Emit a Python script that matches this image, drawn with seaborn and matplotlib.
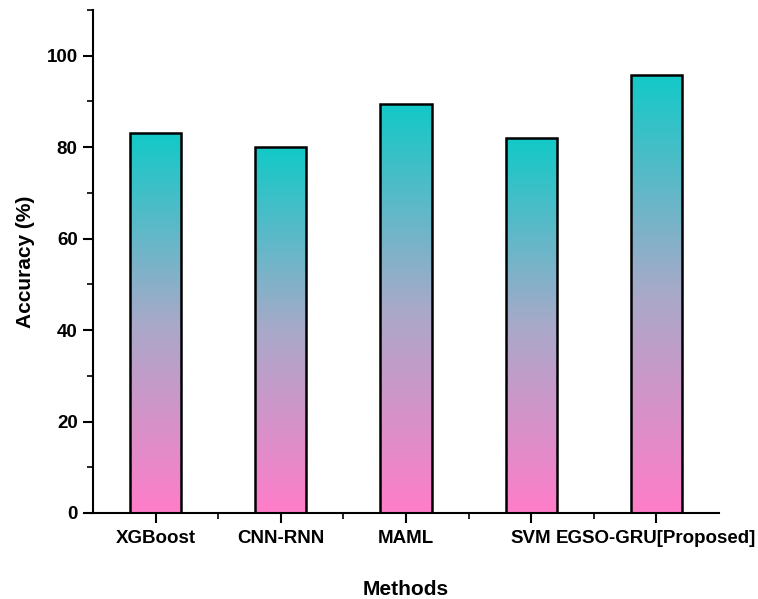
import numpy as np
import pandas as pd
import matplotlib
matplotlib.use("Agg")
import matplotlib.pyplot as plt
from matplotlib.colors import LinearSegmentedColormap
from matplotlib.ticker import MultipleLocator, FixedLocator
import seaborn as sns

methods = ["XGBoost", "CNN-RNN", "MAML", "SVM", "EGSO-GRU[Proposed]"]
accuracy = [83.0, 80.0, 89.5, 82.0, 95.8]

sns.set_style("ticks")
plt.rcParams["font.family"] = ["Liberation Sans", "DejaVu Sans"]
plt.rcParams["text.color"] = "black"
plt.rcParams["axes.labelcolor"] = "black"
plt.rcParams["xtick.color"] = "black"
plt.rcParams["ytick.color"] = "black"
plt.rcParams["axes.edgecolor"] = "black"

df = pd.DataFrame({"Methods": methods, "Accuracy": accuracy})

fig = plt.figure(figsize=(7.58, 5.99), dpi=100)
ax = fig.add_axes([0.1227, 0.1436, 0.8258, 0.8397])

sns.barplot(data=df, x="Methods", y="Accuracy", ax=ax, width=0.41,
            color="white", edgecolor="black", linewidth=1.8, zorder=3)

cmap = LinearSegmentedColormap.from_list(
    "tp", [(0.0, "#FF7DC8"), (0.5, "#A8A9C9"), (1.0, "#12C9C7")])
grad = np.linspace(0, 1, 256).reshape(-1, 1)
for p in ax.patches:
    x0, y0 = p.get_x(), p.get_y()
    w, h = p.get_width(), p.get_height()
    im = ax.imshow(grad, cmap=cmap, origin="lower", aspect="auto",
                   extent=[x0, x0 + w, y0, y0 + h], zorder=2,
                   interpolation="bilinear")
    im.set_clip_path(p)
    p.set_facecolor("none")

ax.set_xlim(-0.5, 4.5)
ax.set_ylim(0, 110)
ax.yaxis.set_major_locator(MultipleLocator(20))
ax.yaxis.set_minor_locator(MultipleLocator(10))
ax.xaxis.set_minor_locator(FixedLocator([0.5, 1.5, 2.5, 3.5]))

sns.despine(ax=ax)
for s in ["left", "bottom"]:
    ax.spines[s].set_linewidth(1.5)
    ax.spines[s].set_color("black")

ax.tick_params(axis="both", which="major", direction="out", length=7, width=1.5,
               labelsize=13.5, colors="black")
ax.tick_params(axis="both", which="minor", direction="out", length=4, width=1.2,
               colors="black")
ax.tick_params(axis="x", which="major", pad=5)
ax.tick_params(axis="y", which="major", pad=4)
for lab in ax.get_xticklabels() + ax.get_yticklabels():
    lab.set_fontweight("bold")

ax.set_xlabel("Methods", fontsize=15, fontweight="bold", labelpad=24)
ax.set_ylabel("Accuracy (%)", fontsize=15, fontweight="bold", labelpad=8)

fig.savefig("out.png", dpi=100)
